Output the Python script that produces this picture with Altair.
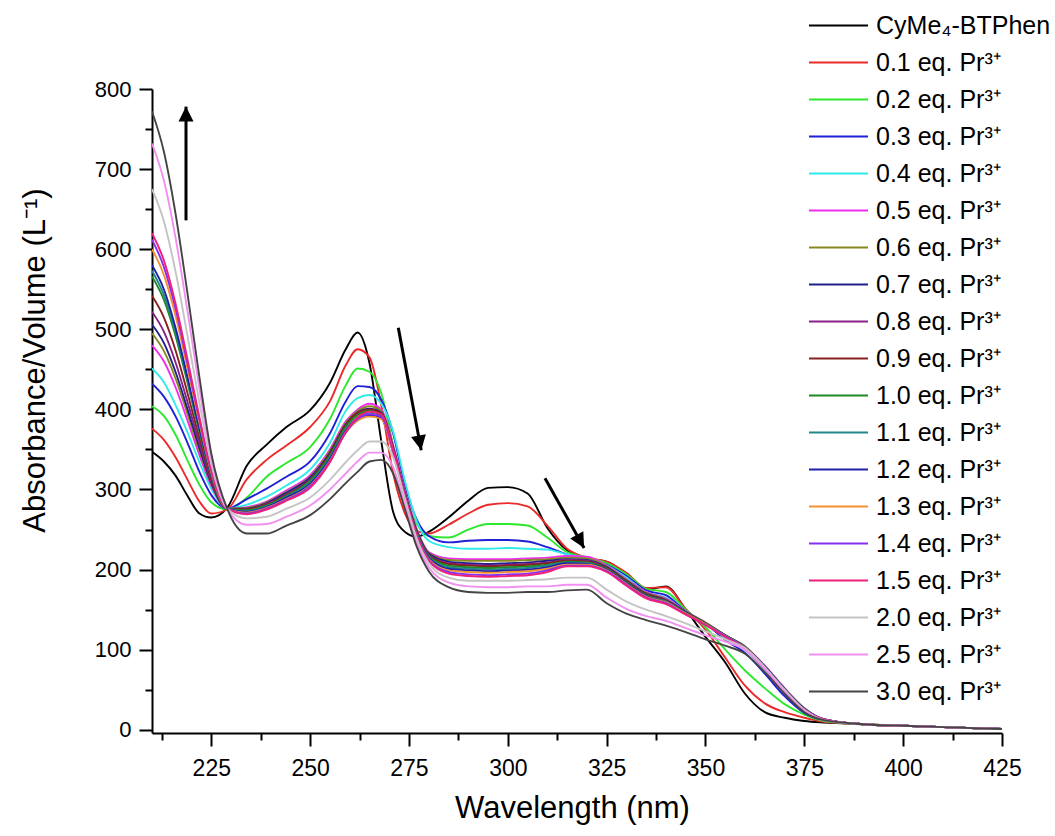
import math
import altair as alt
import pandas as pd

# ---------------- data ----------------
wavelengths = [210, 213, 216, 219, 222, 225, 229, 234, 239, 244, 250, 255, 259, 262, 265, 268,
               271, 274, 277, 280, 285, 290, 295, 300, 305, 310, 315, 320, 325, 330, 335, 340,
               345, 350, 355, 360, 365, 370, 375, 380, 390, 400, 412, 425]

series_names = ["CyMe₄-BTPhen", "0.1 eq. Pr³⁺", "0.2 eq. Pr³⁺", "0.3 eq. Pr³⁺", "0.4 eq. Pr³⁺",
                "0.5 eq. Pr³⁺", "0.6 eq. Pr³⁺", "0.7 eq. Pr³⁺", "0.8 eq. Pr³⁺", "0.9 eq. Pr³⁺",
                "1.0 eq. Pr³⁺", "1.1 eq. Pr³⁺", "1.2 eq. Pr³⁺", "1.3 eq. Pr³⁺", "1.4 eq. Pr³⁺",
                "1.5 eq. Pr³⁺", "2.0 eq. Pr³⁺", "2.5 eq. Pr³⁺", "3.0 eq. Pr³⁺"]

series_colors = ["#000000", "#ec2a2a", "#2ee82e", "#2020d6", "#30eaea", "#f02cf0", "#888820",
                 "#20208a", "#882088", "#882020", "#208820", "#208888", "#2020a8", "#f59030",
                 "#8530f0", "#f0207c", "#c4c4c4", "#f290f2", "#444444"]

ligand = [347, 335, 317, 292, 270, 265, 277, 330, 356, 378, 399, 433, 475, 496, 458, 360,
          272, 247, 241, 247, 265, 286, 302, 303, 295, 252, 224, 214, 210, 195, 175, 179,
          150, 116, 84, 45, 22, 15, 11, 9, 7, 5, 3, 1]
eq_01 = [376, 362, 340, 312, 285, 270, 275, 313, 337, 355, 378, 410, 455, 475, 465, 405,
         320, 270, 248, 245, 256, 270, 281, 283, 279, 255, 226, 215, 210, 196, 177, 178,
         151, 125, 90, 55, 33, 22, 15, 10, 7, 5, 3, 1]
eq_02 = [404, 392, 368, 336, 306, 284, 275, 290, 316, 333, 353, 388, 430, 451, 447, 420,
         355, 290, 257, 242, 240, 250, 257, 257, 255, 240, 222, 215, 208, 194, 176, 172,
         150, 128, 100, 74, 52, 32, 19, 11, 7, 5, 3, 1]
eq_03 = [432, 416, 391, 358, 322, 293, 276, 288, 301, 316, 335, 370, 410, 429, 428, 412,
         370, 305, 262, 242, 234, 236, 237, 237, 235, 228, 219, 214, 206, 192, 174, 168,
         148, 133, 112, 96, 70, 42, 21, 12, 7, 5, 3, 1]
eq_04 = [451, 434, 405, 371, 334, 301, 276, 281, 291, 305, 325, 358, 398, 414, 418, 407,
         372, 310, 260, 236, 228, 226, 226, 227, 226, 225, 219, 214, 205, 190, 172, 165,
         147, 133, 115, 100, 75, 48, 25, 13, 7, 5, 3, 1]
eq_05 = [480, 460, 427, 386, 343, 305, 276, 278, 285, 299, 318, 350, 385, 400, 407, 400,
         355, 298, 250, 222, 214, 213, 213, 213, 214, 215, 217, 216, 205, 188, 172, 164,
         148, 134, 118, 104, 80, 52, 27, 13, 7, 5, 3, 1]
eq_06 = [495, 473, 438, 394, 348, 307, 276, 277, 284, 297, 316, 348, 383, 398, 404, 398,
         353, 296, 249, 221, 212, 211, 211, 211, 212, 213, 215, 214, 204, 187, 171, 163,
         147, 134, 118, 104, 79, 51, 27, 13, 7, 5, 3, 1]
eq_07 = [506, 483, 446, 400, 352, 308, 276, 276, 283, 296, 315, 346, 381, 396, 401, 396,
         352, 295, 248, 220, 210, 208, 207, 208, 209, 211, 213, 212, 203, 186, 170, 162,
         147, 133, 118, 103, 79, 51, 26, 13, 7, 5, 3, 1]
eq_08 = [522, 497, 458, 409, 357, 310, 276, 275, 282, 294, 313, 344, 379, 394, 399, 394,
         350, 294, 247, 219, 208, 206, 205, 206, 207, 209, 212, 211, 202, 185, 169, 161,
         146, 133, 118, 103, 78, 50, 26, 13, 7, 5, 3, 1]
eq_09 = [542, 515, 473, 420, 364, 313, 276, 275, 281, 293, 312, 344, 380, 396, 400, 395,
         350, 293, 246, 218, 207, 205, 204, 205, 206, 208, 211, 210, 202, 185, 169, 161,
         146, 133, 117, 103, 78, 50, 26, 13, 7, 5, 3, 1]
eq_10 = [566, 537, 491, 433, 372, 317, 276, 274, 280, 292, 311, 342, 378, 393, 398, 392,
         348, 292, 245, 217, 205, 203, 202, 203, 204, 206, 210, 209, 201, 184, 168, 160,
         146, 133, 118, 103, 78, 50, 26, 13, 7, 5, 3, 1]
eq_11 = [573, 543, 496, 436, 374, 318, 276, 273, 279, 291, 309, 340, 375, 390, 395, 390,
         347, 291, 244, 216, 203, 201, 200, 201, 202, 205, 209, 208, 200, 183, 167, 160,
         145, 132, 117, 102, 78, 50, 26, 13, 7, 5, 3, 1]
eq_12 = [580, 550, 501, 440, 376, 319, 276, 272, 278, 290, 307, 338, 373, 388, 393, 389,
         346, 290, 243, 215, 201, 199, 198, 199, 200, 203, 208, 207, 200, 183, 167, 159,
         145, 132, 117, 102, 77, 49, 26, 13, 7, 5, 3, 1]
eq_13 = [600, 568, 516, 451, 383, 321, 276, 271, 277, 288, 305, 336, 371, 386, 391, 388,
         346, 290, 242, 213, 199, 197, 196, 197, 198, 201, 206, 206, 199, 182, 166, 159,
         145, 132, 117, 102, 77, 49, 25, 13, 7, 5, 3, 1]
eq_14 = [612, 578, 525, 457, 387, 323, 276, 270, 276, 287, 304, 335, 371, 388, 394, 391,
         348, 291, 242, 212, 197, 194, 193, 194, 195, 199, 205, 205, 198, 181, 165, 158,
         144, 131, 117, 102, 77, 49, 25, 13, 7, 5, 3, 1]
eq_15 = [620, 586, 531, 462, 390, 324, 276, 269, 275, 286, 302, 334, 372, 390, 397, 394,
         350, 292, 242, 211, 195, 192, 191, 192, 193, 197, 204, 204, 197, 180, 164, 157,
         144, 131, 116, 101, 76, 48, 25, 13, 7, 5, 3, 1]
eq_20 = [675, 635, 571, 491, 408, 332, 276, 264, 266, 276, 290, 312, 334, 349, 360, 360,
         340, 288, 238, 208, 190, 186, 186, 186, 187, 188, 190, 190, 175, 160, 150, 142,
         133, 123, 113, 102, 78, 50, 25, 12, 7, 5, 3, 1]
eq_25 = [732, 686, 613, 522, 426, 340, 276, 256, 257, 266, 280, 300, 320, 335, 346, 346,
         328, 280, 232, 203, 184, 179, 178, 178, 179, 179, 181, 181, 165, 151, 142, 136,
         127, 118, 110, 100, 76, 48, 24, 12, 7, 5, 3, 1]
eq_30 = [772, 722, 643, 544, 440, 345, 276, 245, 245, 255, 268, 288, 308, 322, 335, 337,
         320, 275, 228, 198, 178, 172, 171, 171, 172, 172, 174, 175, 158, 145, 137, 130,
         122, 113, 105, 95, 72, 45, 22, 12, 7, 5, 3, 1]

all_series = [ligand, eq_01, eq_02, eq_03, eq_04, eq_05, eq_06, eq_07, eq_08, eq_09, eq_10,
              eq_11, eq_12, eq_13, eq_14, eq_15, eq_20, eq_25, eq_30]

# annotation arrows (data coordinates: start -> tip)
arrow_x_start = [218.6, 272.3, 309.4]
arrow_y_start = [636, 502, 314]
arrow_x_end = [218.6, 278.1, 319.3]
arrow_y_end = [778, 349, 227]

x_ticks = [212.5 + 12.5 * i for i in range(18)]
y_ticks = [50 * i for i in range(17)]

# ---------------- layout ----------------
W, H = 850, 644
X_DOM = [210, 425]
Y_DOM = [-4, 800]
FONT = "Liberation Sans"

rows = []
for k, (name, vals) in enumerate(zip(series_names, all_series)):
    for wl, v in zip(wavelengths, vals):
        rows.append({"series": name, "order": k, "wl": wl, "val": v})
df = pd.DataFrame(rows)

px_per_x = W / (X_DOM[1] - X_DOM[0])
px_per_y = H / (Y_DOM[1] - Y_DOM[0])
arrows = []
for xs, ys, xe, ye in zip(arrow_x_start, arrow_y_start, arrow_x_end, arrow_y_end):
    dx = (xe - xs) * px_per_x
    dy = -(ye - ys) * px_per_y
    ang = math.degrees(math.atan2(dx, -dy)) % 360
    arrows.append({"xs": xs, "ys": ys, "xe": xe, "ye": ye, "ang": ang})
adf = pd.DataFrame(arrows)

x_scale = alt.Scale(domain=X_DOM, nice=False, zero=False)
y_scale = alt.Scale(domain=Y_DOM, nice=False, zero=False)

x_axis = alt.Axis(
    values=x_ticks, title="Wavelength (nm)",
    labelExpr="datum.value % 25 === 0 ? datum.label : ''",
    tickSize={"condition": {"test": "datum.value % 25 === 0", "value": 13}, "value": 7},
    labelPadding=11, labelFontSize=23, labelFlush=False, labelOverlap=False,
    titleFontSize=31, titleX=420, titleY=75, titleBaseline="middle",
    grid=False,
)
y_axis = alt.Axis(
    values=y_ticks, title="Absorbance/Volume (L⁻¹)",
    labelExpr="datum.value % 100 === 0 ? datum.label : ''",
    tickSize={"condition": {"test": "datum.value % 100 === 0", "value": 13}, "value": 7},
    labelPadding=8, labelFontSize=22, labelOverlap=False, labelFlush=False,
    titleFontSize=31, titleX=-117, titleY=271, titleBaseline="middle",
    grid=False,
)

lines = alt.Chart(df).mark_line(strokeWidth=1.9, interpolate="monotone", clip=True).encode(
    x=alt.X("wl:Q", scale=x_scale, axis=x_axis),
    y=alt.Y("val:Q", scale=y_scale, axis=y_axis),
    color=alt.Color(
        "series:N",
        scale=alt.Scale(domain=series_names, range=series_colors),
        sort=series_names,
        legend=alt.Legend(
            title=None, orient="none", legendX=674, legendY=-76, padding=0,
            symbolType="M-3,0H3", symbolSize=387, symbolStrokeWidth=2,
            symbolFillColor="transparent",
            labelFontSize=25, labelFont=FONT, labelColor="#000000",
            labelOffset=25, rowPadding=11.0, labelLimit=400,
        ),
    ),
    order=alt.Order("order:Q"),
    detail="order:Q",
)

shafts = alt.Chart(adf).mark_rule(color="black", strokeWidth=3).encode(
    x=alt.X("xs:Q", scale=x_scale), y=alt.Y("ys:Q", scale=y_scale),
    x2="xe:Q", y2="ye:Q",
)
heads = alt.Chart(adf).mark_point(
    shape="M0,0 L0.5,1 L-0.5,1 Z", filled=True, color="black", opacity=1, size=900,
).encode(
    x=alt.X("xe:Q", scale=x_scale), y=alt.Y("ye:Q", scale=y_scale),
    angle=alt.Angle("ang:Q", scale=None),
)

chart = alt.layer(lines, shafts, heads).properties(
    width=W, height=H,
    autosize=alt.AutoSizeParams(type="none"),
    padding={"left": 152, "top": 89, "right": 53, "bottom": 103},
    background="white",
).configure_view(stroke=None).configure_axis(
    domainColor="black", domainWidth=2, tickColor="black", tickWidth=2,
    labelColor="black", titleColor="black", labelFont=FONT, titleFont=FONT,
    titleFontWeight="normal",
)

chart.save("out.html", embed_options={"renderer": "svg", "actions": False})
